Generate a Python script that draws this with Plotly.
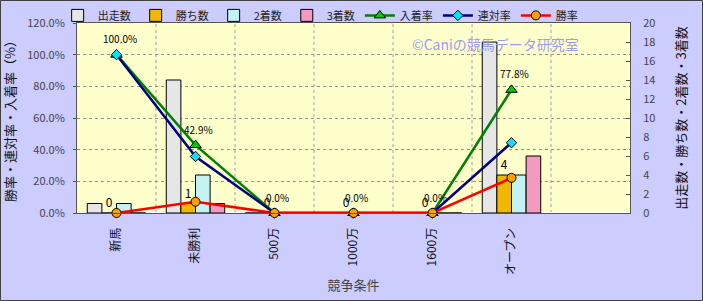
import plotly.graph_objects as go

categories = ["新馬", "未勝利", "500万", "1000万", "1600万", "オープン", " "]
starts = [1, 14, 0, 0, 0, 18, None]
wins = [0, 1, 0, 0, 0, 4, None]
seconds = [1, 4, 0, 0, 0, 4, None]
thirds = [0, 1, 0, 0, 0, 6, None]
place_rate = [1.0, 0.429, 0.0, 0.0, 0.0, 0.778, None]
rentai_rate = [1.0, 0.357, 0.0, 0.0, 0.0, 0.444, None]
win_rate = [0.0, 0.071, 0.0, 0.0, 0.0, 0.222, None]

JP = "Noto Sans CJK JP, Liberation Sans, sans-serif"

fig = go.Figure()

bar_specs = [
    ("出走数", starts, "#e6e6e6"),
    ("勝ち数", wins, "#f0b800"),
    ("2着数", seconds, "#c4f2f2"),
    ("3着数", thirds, "#f29ac0"),
]
for name, vals, col in bar_specs:
    kw = {}
    if name == "勝ち数":
        kw = dict(text=[("" if v is None else str(v)) for v in vals],
                  textposition="outside", textfont=dict(size=12, color="black", family=JP),
                  cliponaxis=False)
    fig.add_trace(go.Bar(name=name, x=categories, y=vals, yaxis="y",
                         marker=dict(color=col, line=dict(color="black", width=1)), **kw))

line_specs = [
    ("入着率", place_rate, "#008000", "triangle-up", "#00cc00", 10),
    ("連対率", rentai_rate, "#000080", "diamond", "#00e5ff", 8),
    ("勝率", win_rate, "#ff0000", "circle", "#ffa000", 9),
]
for name, vals, lc, sym, mc, ms in line_specs:
    fig.add_trace(go.Scatter(name=name, x=categories, y=vals, yaxis="y2", mode="lines+markers",
                             line=dict(color=lc, width=2.5),
                             marker=dict(symbol=sym, color=mc, size=ms, line=dict(color="black", width=1)),
                             cliponaxis=False))

# 入着率 labels
for c, v in zip(categories, place_rate):
    if v is None:
        continue
    fig.add_annotation(x=c, y=v, xref="x", yref="y2", text=f"{v*100:.1f}%", showarrow=False,
                       yshift=16, xshift=3, font=dict(size=10, color="black", family=JP))

fig.add_annotation(x=(495 - 77) / 553, y=(213 - 44) / 190, xref="paper", yref="paper",
                   xanchor="center", yanchor="middle",
                   text="©Caniの競馬データ研究室",
                   showarrow=False, font=dict(size=14, color="#9c9cf2", family=JP))

fig.update_layout(
    width=703, height=301,
    margin=dict(l=77, r=73, t=23, b=88, autoexpand=False),
    paper_bgcolor="#ccccff",
    plot_bgcolor="#ffffcc",
    barmode="group", bargap=0.26, bargroupgap=0,
    font=dict(family=JP, size=11, color="#333333"),
    showlegend=True,
    legend=dict(orientation="h", x=-0.035, xanchor="left", y=1.04, yanchor="middle",
                bgcolor="rgba(0,0,0,0)", font=dict(size=11, color="#222222", family=JP),
                itemwidth=30, tracegroupgap=0),
    xaxis=dict(type="category", categoryorder="array", categoryarray=categories,
               tickangle=-90, tickfont=dict(size=12, color="#111111", family=JP),
               ticks="outside", ticklen=9, tickcolor="rgba(0,0,0,0)", automargin=False,
               showgrid=False, showline=True, linecolor="#555555", mirror=True,
               title=dict(text="競争条件", font=dict(size=13, color="#444444", family=JP), standoff=6)),
    yaxis=dict(side="right", range=[0, 20], dtick=2, showgrid=False, automargin=False,
               ticks="inside", ticklen=4, tickcolor="#555555",
               tickfont=dict(size=11, color="#444444"), ticklabelstandoff=10,
               showline=True, linecolor="#555555",
               title=dict(text="出走数・勝ち数・2着数・3着数", font=dict(size=13, color="#111111", family=JP), standoff=22)),
    yaxis2=dict(overlaying="y", side="left", range=[0, 1.2], dtick=0.2, tickformat=".1%",
                showgrid=True, gridcolor="#909090", griddash="dot", gridwidth=1, automargin=False,
                ticks="outside", ticklen=3, tickcolor="#555555",
                tickfont=dict(size=11, color="#444444"), ticklabelstandoff=6,
                showline=True, linecolor="#555555",
                title=dict(text="勝率・連対率・入着率（%）", font=dict(size=13, color="#111111", family=JP), standoff=22)),
)

# vertical category boundary grid lines
for k in range(1, 7):
    fig.add_shape(type="line", xref="paper", yref="paper", x0=k / 7, x1=k / 7, y0=0, y1=1,
                  line=dict(color="#a0a0a0", width=1, dash="dot"), layer="below")

# outer border
fig.add_shape(type="rect", xref="paper", yref="paper",
              x0=(0.5 - 77) / 553, x1=(702.5 - 77) / 553,
              y0=(213 - 300.5) / 190, y1=(213 - 0.5) / 190,
              line=dict(color="#404040", width=1), layer="above")

fig.write_html("out.html")
